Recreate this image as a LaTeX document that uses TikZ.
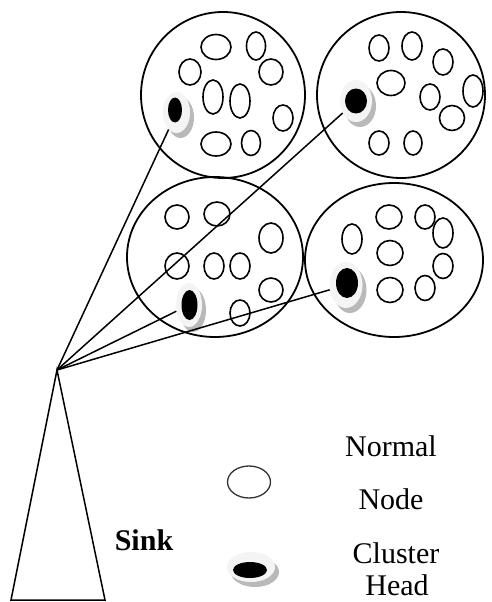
\documentclass[tikz,border=0pt]{standalone}
\usepackage{fontspec}
\setmainfont{Liberation Serif}
\usetikzlibrary{shapes.geometric}

% sensor node drawn as an outlined ellipse
\newcommand\sensornode[5]{%
  \node[sensor, minimum width=#4pt, minimum height=#5pt] (#1) at (#2,#3) {};}

% cluster head: grey shadow, pale ring and a black core
% #1 name, #2/#3 centre, #4/#5 ring radii, #6/#7 core centre, #8/#9 core radii
\newcommand\clusterhead[9]{%
  \fill[chshadow] (#2+4,#3+5) ellipse (#4pt and #5pt);
  \node[chring, minimum width=2*#4pt, minimum height=2*#5pt] (#1) at (#2,#3) {};
  \fill[black] (#6,#7) ellipse (#8pt and #9pt);}

\tikzset{
  cluster/.style={line width=1.8pt},
  sensor/.style={ellipse, draw, line width=1.6pt, inner sep=0pt},
  chring/.style={ellipse, fill=gray!9, draw=none, inner sep=0pt},
  chshadow/.style={fill=gray!55},
  link/.style={line width=1.5pt},
  label/.style={font=\fontsize{30}{36}\selectfont, anchor=base, inner sep=0pt},
}

\begin{document}
\begin{tikzpicture}[x=1pt,y=-1pt]
\useasboundingbox (0,0) rectangle (491,602);

% cluster regions
\draw[cluster] (223,95) ellipse (82pt and 83pt);
\draw[cluster] (401,95) ellipse (84pt and 83pt);
\draw[cluster] (215,257) ellipse (88pt and 80pt);
\draw[cluster] (394,260) ellipse (89pt and 77pt);

% normal nodes, upper left cluster
\sensornode{a1}{216}{47}{30}{25}
\sensornode{a2}{256}{46}{19}{28}
\sensornode{a3}{190}{72}{22}{26}
\sensornode{a4}{271}{72}{24}{26}
\sensornode{a5}{213}{97}{20}{34}
\sensornode{a6}{240}{101}{20}{34}
\sensornode{a7}{283}{118}{20}{26}
\sensornode{a8}{216}{144}{30}{24}
\sensornode{a9}{251}{143}{19}{25}

% normal nodes, upper right cluster
\sensornode{b1}{379}{48}{20}{26}
\sensornode{b2}{412}{46}{20}{28}
\sensornode{b3}{443}{62}{20}{26}
\sensornode{b4}{391}{83}{28}{25}
\sensornode{b5}{430}{97}{20}{26}
\sensornode{b6}{473}{91}{20}{32}
\sensornode{b7}{452}{118}{25}{25}
\sensornode{b8}{379}{143}{20}{24}
\sensornode{b9}{413}{143}{18}{24}

% normal nodes, lower left cluster
\sensornode{c1}{177}{217}{24}{24}
\sensornode{c2}{217}{214}{26}{24}
\sensornode{c3}{271}{238}{24}{30}
\sensornode{c4}{177}{266}{24}{26}
\sensornode{c5}{214}{266}{20}{26}
\sensornode{c6}{240}{266}{20}{26}
\sensornode{c7}{271}{290}{24}{24}
\sensornode{c8}{240}{313}{20}{26}

% normal nodes, lower right cluster
\sensornode{d1}{352}{239}{20}{30}
\sensornode{d2}{389}{217}{26}{24}
\sensornode{d3}{425}{217}{20}{24}
\sensornode{d4}{443}{233}{20}{30}
\sensornode{d5}{390}{253}{26}{25}
\sensornode{d6}{443}{266}{20}{25}
\sensornode{d7}{390}{290}{26}{25}
\sensornode{d8}{425}{288}{20}{25}

% sink
\coordinate (apex) at (57,370);
\draw[link, line join=miter] (11,600) -- (apex) -- (105,600) -- cycle;
\node[label, font=\fontsize{30}{36}\selectfont\bfseries] (sinklabel) at (144,550) {Sink};

% cluster heads
\clusterhead{h1}{176.5}{112.5}{13.5}{20.5}{175}{110}{7}{12.5}
\clusterhead{h2}{356}{101}{16}{21}{356}{101}{11}{12.5}
\clusterhead{h3}{189}{305}{13}{22}{189.5}{305}{8}{15}
\clusterhead{h4}{346}{285}{16.5}{23}{347}{283}{11}{15}

% links from the sink to every cluster head
\draw[link] (apex) -- (h1);
\draw[link] (apex) -- (h2);
\draw[link] (apex) -- (h3);
\draw[link] (apex) -- (h4);

% legend
\node[sensor, draw=black!80, line width=1.3pt, minimum width=43pt, minimum height=32pt] (legnormal) at (249,482) {};
\clusterhead{leghead}{251}{567}{24}{15}{250}{570}{17}{8}
\node[label] (t1) at (391,456) {Normal};
\node[label] (t2) at (391,509) {Node};
\node[label] (t3) at (396,563) {Cluster};
\node[label] (t4) at (397,595) {Head};
\end{tikzpicture}
\end{document}
